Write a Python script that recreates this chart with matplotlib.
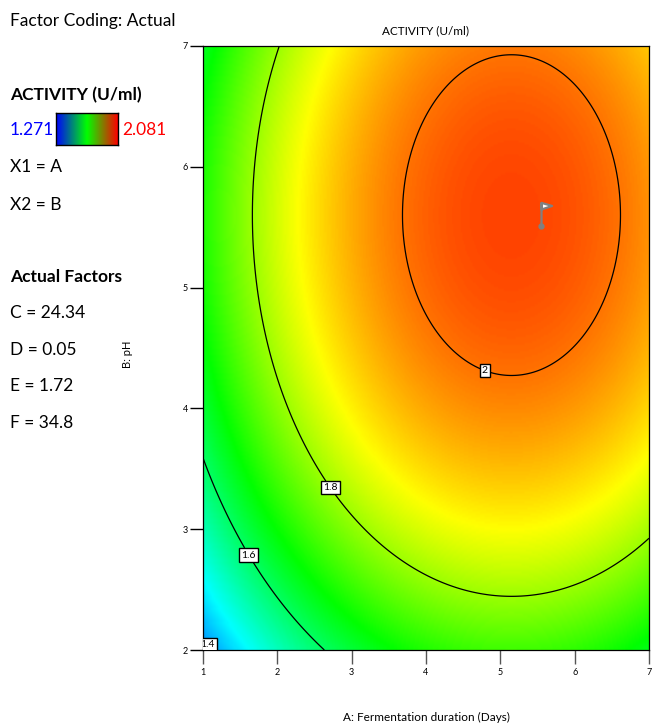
import numpy as np
import matplotlib
matplotlib.use("Agg")
import matplotlib.pyplot as plt
from matplotlib.colors import LinearSegmentedColormap
from matplotlib.path import Path

plt.rcParams['font.family'] = ['Lato', 'DejaVu Sans']

# fitted response surface (actual factors)
peak_activity = 2.043
center_A = 5.15
center_B = 5.60
curv_A = 0.0200
curv_B = 0.0244

A_range = [1, 7]
B_range = [2, 7]
A_ticks = [1, 2, 3, 4, 5, 6, 7]
B_ticks = [2, 3, 4, 5, 6, 7]
contour_levels = [1.4, 1.6, 1.8, 2.0]
label_pos = [(4.83, 4.38), (2.78, 3.37), (1.68, 2.81), (1.13, 2.07)]
flag_point = (5.55, 5.51)
color_min, color_max = 1.271, 2.081
actual_factors = ["C = 24.34", "D = 0.05", "E = 1.72", "F = 34.8"]

W, H = 654, 728
fig = plt.figure(figsize=(W / 100, H / 100), dpi=100)
ax = fig.add_axes([203 / W, 1 - 650 / H, 446 / W, 604 / H])

a = np.linspace(A_range[0], A_range[1], 301)
b = np.linspace(B_range[0], B_range[1], 301)
AA, BB = np.meshgrid(a, b)
Z = peak_activity - curv_A * (AA - center_A) ** 2 - curv_B * (BB - center_B) ** 2

surf_cmap = LinearSegmentedColormap.from_list(
    "de", [(0, "#0000ff"), (0.25, "#00ffff"), (0.5, "#00ff00"), (0.75, "#ffff00"), (1, "#ff1800")])
ax.imshow(Z, origin="lower", extent=[A_range[0], A_range[1], B_range[0], B_range[1]],
          cmap=surf_cmap, vmin=color_min, vmax=color_max, aspect="auto", interpolation="bilinear")
cs = ax.contour(AA, BB, Z, levels=contour_levels, colors="black", linewidths=0.9)
lbls = ax.clabel(cs, fmt=lambda v: f"{v:g}", manual=label_pos, inline=True, fontsize=7.5, inline_spacing=1)
for t in lbls:
    t.set_rotation(0)
    t.set_bbox(dict(boxstyle="square,pad=0.2", fc="white", ec="black", lw=1))

# flag marker at the optimum
flag = Path([(0, 0), (0, 1), (0, 1), (0.45, 0.87), (0, 0.72), (0, 1)],
            [Path.MOVETO, Path.LINETO, Path.MOVETO, Path.LINETO, Path.LINETO, Path.CLOSEPOLY])
ax.plot(*flag_point, marker=flag, markersize=34, mfc="white", mec="#808080", mew=1.6, ls="none")
ax.plot(*flag_point, marker="o", markersize=3.5, color="#808080", ls="none")

ax.set_xlim(A_range)
ax.set_ylim(B_range)
ax.set_xticks(A_ticks)
ax.set_yticks(B_ticks)
ax.tick_params(axis="x", length=10, width=1, pad=3, labelsize=6.5, color="#555555")
ax.tick_params(axis="y", length=9.5, width=1, pad=1.5, labelsize=6.5)
for s in ax.spines.values():
    s.set_linewidth(0.9)

ax.set_xlabel("A: Fermentation duration (Days)", fontsize=8.5)
ax.xaxis.set_label_coords(0.5, -0.103)
ax.set_ylabel("B: pH", fontsize=8)
ax.yaxis.set_label_coords(-0.157, 0.49)
ax.text(0.5, 1.025, "ACTIVITY (U/ml)", transform=ax.transAxes, ha="center", va="center", fontsize=8.5)

# left legend panel
def ftext(x, y, s, **kw):
    fig.text(x / W, 1 - y / H, s, va="center", ha="left", **kw)

fs = 12.5
ftext(10, 21, "Factor Coding: Actual", fontsize=fs)
ftext(10, 95, "ACTIVITY (U/ml)", fontsize=fs, fontweight="bold")
ftext(10, 130, f"{color_min}", fontsize=fs, color="#0000ff")
ftext(122, 130, f"{color_max}", fontsize=fs, color="#ff0000")
ftext(10, 167, "X1 = A", fontsize=fs)
ftext(10, 205, "X2 = B", fontsize=fs)
ftext(10, 277, "Actual Factors", fontsize=fs, fontweight="bold")
for i, s in enumerate(actual_factors):
    ftext(10, 313 + i * 36.5, s, fontsize=fs)

cax = fig.add_axes([56 / W, 1 - 145 / H, 62 / W, 32 / H])
bar_cmap = LinearSegmentedColormap.from_list("bgr", ["#0000ff", "#00ff00", "#ff0000"])
cax.imshow(np.linspace(0, 1, 256)[None, :], cmap=bar_cmap, aspect="auto")
cax.set_xticks([])
cax.set_yticks([])
for s in cax.spines.values():
    s.set_linewidth(1)

fig.savefig("out.png", dpi=100)
